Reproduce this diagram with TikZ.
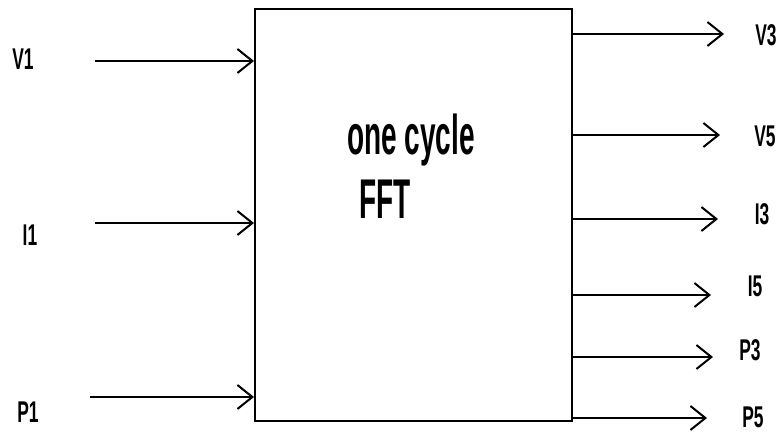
\documentclass[tikz,border=0pt]{standalone}
\usepackage{fontspec}
\setmainfont{Liberation Sans}
\newfontfamily\titlefont{Liberation Sans Bold}[FakeStretch=0.5]
\newfontfamily\labelfont{Liberation Sans Bold}[FakeStretch=0.58]
\usetikzlibrary{positioning, arrows.meta}

\begin{document}
\begin{tikzpicture}[x=1pt, y=-1pt, >={Straight Barb[length=15pt, width=24pt, line width=2pt]},
        block/.style={rectangle, draw=black, line width=2pt, minimum width=317pt, minimum height=412pt, inner sep=0pt},
        title/.style={font=\titlefont\fontsize{56}{56}\selectfont, inner sep=0pt},
        signal/.style={font=\labelfont\fontsize{30}{30}\selectfont, inner sep=0pt},
        arrow/.style={->, line width=1.8pt}]
        \useasboundingbox (0,0) rectangle (783,438);

        \node[block] (fft) at (413.5,215) {};
        \node[title] (cycle) at (411,140) {one cycle};
        \node[title] (fftname) at (385,199) {FFT};

        % inputs
        \node[signal] (v1) at (23,59) {V1};
        \node[signal] (i1) at (30,235) {I1};
        \node[signal] (p1) at (28,412) {P1};
        \coordinate (v1s) at (95,61);
        \coordinate (i1s) at (95,223);
        \coordinate (p1s) at (90,397);

        % outputs
        \node[signal] (v3) at (766,35) {V3};
        \node[signal] (v5) at (765,136) {V5};
        \node[signal] (i3) at (762,214) {I3};
        \node[signal] (i5) at (755,286) {I5};
        \node[signal] (p3) at (750,350) {P3};
        \node[signal] (p5) at (753,417) {P5};
        \coordinate (v3e) at (724,34);
        \coordinate (v5e) at (720,135);
        \coordinate (i3e) at (718,219);
        \coordinate (i5e) at (711,295);
        \coordinate (p3e) at (713,357);
        \coordinate (p5e) at (707,418);

        \draw[arrow] (v1s) -- (v1s -| fft.west);
        \draw[arrow] (i1s) -- (i1s -| fft.west);
        \draw[arrow] (p1s) -- (p1s -| fft.west);

        \draw[arrow] (v3e -| fft.east) -- (v3e);
        \draw[arrow] (v5e -| fft.east) -- (v5e);
        \draw[arrow] (i3e -| fft.east) -- (i3e);
        \draw[arrow] (i5e -| fft.east) -- (i5e);
        \draw[arrow] (p3e -| fft.east) -- (p3e);
        \draw[arrow] (p5e -| fft.east) -- (p5e);
    \end{tikzpicture}
\end{document}
